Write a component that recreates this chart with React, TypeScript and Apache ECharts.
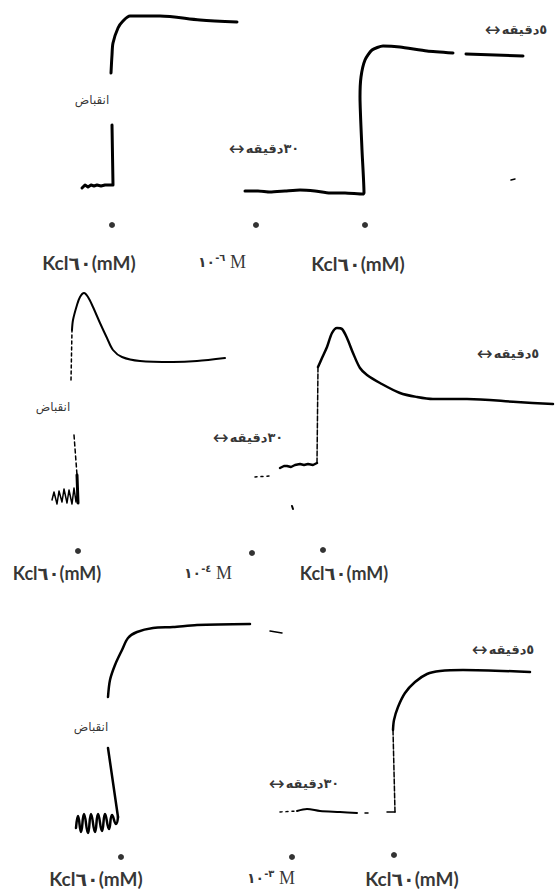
import React, { useEffect, useRef } from "react";
import * as echarts from "echarts";

// ---------- Data (x = time, arbitrary units; y = tension above panel floor, arbitrary units) ----------
const KCL_LABEL = "Kcl٦٠(mM)";
const CONTRACTION_LABEL = "انقباض";
const BAR_5MIN = "٥دقيقه";
const BAR_30MIN = "٣٠دقيقه";
const EXPONENTS = ["-٦", "-٤", "-٣"];

// Panel 1 (10^-6 M)
const P1_T1_BASE = [[82, 92], [85, 95], [88, 93], [91, 95], [94, 94], [97, 95], [101, 94], [105, 95], [109, 95], [113, 95], [112, 155]];
const P1_T1_RISE = [[111, 207], [112, 225], [113, 237], [118, 252], [123, 259], [130, 264], [160, 264], [200, 260], [237, 258]];
const P1_T2_MAIN = [[245, 89], [258, 89], [270, 88], [285, 89], [300, 90], [315, 89], [330, 87], [345, 87], [363, 86], [364, 87], [362, 130], [360, 183], [361, 203], [365, 220], [372, 230], [383, 234], [400, 233], [427, 229], [453, 227]];
const P1_T2_TAIL = [[466, 226], [523, 224]];
const P1_SPECK = [[511, 100], [515, 101]];
const P1_DOTS = [[112, 55], [256, 55], [365, 55]];
const P1_LABEL_POS = [[89, 18], [222, 18], [358, 17]];
const P1_CONTRACTION_POS = [92, 180];
const P1_BAR5_POS = [516, 251];
const P1_BAR30_POS = [264, 132];

// Panel 2 (10^-4 M)
const P2_T1_DASH_UP = [[71, 210], [72, 260]];
const P2_T1_PEAK = [[72, 260], [73, 270], [77, 285], [80, 293], [84, 297], [88, 293], [93, 283], [100, 267], [107, 252], [113, 240], [122, 233], [140, 229], [173, 228], [197, 229], [225, 232]];
const P2_T1_DASH_LOW = [[74, 155], [77, 115]];
const P2_T1_THICK = [[77, 115], [78, 87]];
const P2_T1_SQUIGGLE = [[52, 90], [54, 98], [57, 86], [59, 99], [62, 88], [64, 101], [67, 87], [69, 100], [72, 86], [74, 102], [76, 88], [78, 100]];
const P2_T2_BASE_DOTS = [[255, 113], [270, 114]];
const P2_T2_BASE = [[280, 122], [284, 124], [287, 124], [291, 123], [295, 125], [300, 126], [304, 125], [308, 126], [313, 125], [317, 127]];
const P2_T2_DASH_UP = [[317, 127], [318, 223]];
const P2_T2_PEAK = [[318, 223], [322, 232], [327, 243], [332, 257], [337, 262], [342, 261], [347, 252], [353, 237], [360, 222], [367, 215], [380, 207], [400, 197], [417, 193], [433, 191], [467, 191], [517, 188], [553, 186]];
const P2_SPECK = [[292, 84], [293, 81]];
const P2_DOTS = [[78, 39], [252, 37], [323, 40]];
const P2_LABEL_POS = [[57, 17], [208, 17], [344, 17]];
const P2_CONTRACTION_POS = [53, 183];
const P2_BAR5_POS = [508, 237];
const P2_BAR30_POS = [248, 153];

// Panel 3 (10^-3 M)
const P3_T1_SQUIGGLE = [[76, 62], [78, 74], [81, 58], [84, 76], [88, 57], [91, 76], [95, 58], [98, 76], [102, 59], [105, 76], [109, 61], [112, 75], [116, 66], [118, 73]];
const P3_T1_LOW = [[118, 73], [108, 142]];
const P3_T1_RISE = [[108, 193], [110, 210], [115, 225], [122, 240], [128, 252], [137, 258], [153, 262], [173, 263], [197, 265], [250, 266]];
const P3_SPECK = [[270, 259], [282, 257]];
const P3_T2_BASE_DOTS = [[280, 78], [296, 79]];
const P3_T2_BASE = [[297, 79], [307, 81], [320, 79], [340, 78], [357, 77]];
const P3_T2_DOT = [[365, 77], [368, 77]];
const P3_T2_CORNER = [[387, 78], [395, 78]];
const P3_T2_DASH_UP = [[395, 78], [393, 160]];
const P3_T2_RISE = [[393, 160], [394, 170], [398, 183], [405, 197], [415, 208], [427, 216], [440, 219], [463, 220], [530, 218]];
const P3_DOTS = [[121, 33], [292, 33], [394, 35]];
const P3_LABEL_POS = [[96, 12], [271, 12], [412, 12]];
const P3_CONTRACTION_POS = [91, 163];
const P3_BAR5_POS = [503, 241];
const P3_BAR30_POS = [304, 107];

// ---------- Layout ----------
const PANELS = [
  { top: 0, height: 280 },
  { top: 280, height: 310 },
  { top: 590, height: 300 },
];
const WIDTH = 558;
const HEIGHT = 890;

const ARABIC_FONT = '"DejaVu Sans", sans-serif';
const LATIN_FONT = 'Lato, "DejaVu Sans", sans-serif';

function line(panel: number, data: number[][], width: number, type: any = "solid", smooth: number | boolean = false) {
  return {
    type: "line",
    xAxisIndex: panel,
    yAxisIndex: panel,
    data,
    symbol: "none",
    showSymbol: false,
    smooth,
    silent: true,
    lineStyle: { color: "#000", width, type, cap: "round", join: "round" },
  };
}

function text(panel: number, pos: number[], formatter: string, style: any) {
  return {
    type: "scatter",
    xAxisIndex: panel,
    yAxisIndex: panel,
    symbolSize: 0,
    silent: true,
    z: 5,
    data: [{ value: pos }],
    label: {
      show: true,
      position: "inside",
      formatter,
      color: "#000",
      textBorderWidth: 0,
      ...style,
    },
  };
}

function dots(panel: number, data: number[][]) {
  return {
    type: "scatter",
    xAxisIndex: panel,
    yAxisIndex: panel,
    symbol: "circle",
    symbolSize: 6,
    silent: true,
    data,
    itemStyle: { color: "#000" },
  };
}

const BAR_RICH = {
  a: { fontFamily: ARABIC_FONT, fontSize: 19, color: "#000", lineHeight: 20, padding: [0, 1, 0, 0] },
  t: { fontFamily: ARABIC_FONT, fontSize: 13, fontWeight: "bold", color: "#000", lineHeight: 20 },
};

function panelTexts(panel: number, labelPos: number[][], contraction: number[], bar5: number[], bar30: number[], kclSize: number) {
  const kclStyle = { fontFamily: LATIN_FONT, fontWeight: "bold", fontSize: kclSize };
  return [
    text(panel, labelPos[0], KCL_LABEL, kclStyle),
    text(panel, labelPos[1], `{n|١٠}{s|${EXPONENTS[panel]}}{m| M}`, {
      rich: {
        n: { fontFamily: ARABIC_FONT, fontSize: 14, fontWeight: "bold", color: "#000", lineHeight: 20 },
        s: { fontFamily: ARABIC_FONT, fontSize: 10, fontWeight: "bold", color: "#000", verticalAlign: "top", lineHeight: 20 },
        m: { fontFamily: '"Liberation Serif", serif', fontSize: 18, color: "#000", lineHeight: 20 },
      },
    }),
    text(panel, labelPos[2], KCL_LABEL, kclStyle),
    text(panel, contraction, CONTRACTION_LABEL, { fontFamily: ARABIC_FONT, fontSize: 12 }),
    text(panel, bar5, `{a|↔}{t|${BAR_5MIN}}`, { rich: BAR_RICH }),
    text(panel, bar30, `{a|↔}{t|${BAR_30MIN}}`, { rich: BAR_RICH }),
  ];
}

export default function App() {
  const ref = useRef<HTMLDivElement>(null);

  useEffect(() => {
    if (!ref.current) return;
    const chart = echarts.init(ref.current, undefined, { renderer: "svg" });

    const series: any[] = [
      // Panel 1
      line(0, P1_T1_BASE, 3),
      line(0, P1_T1_RISE, 3, "solid", 0.3),
      line(0, P1_T2_MAIN, 3, "solid", 0.2),
      line(0, P1_T2_TAIL, 3),
      line(0, P1_SPECK, 1.5),
      dots(0, P1_DOTS),
      ...panelTexts(0, P1_LABEL_POS, P1_CONTRACTION_POS, P1_BAR5_POS, P1_BAR30_POS, 19),
      // Panel 2
      line(1, P2_T1_DASH_UP, 1.5, [3, 3]),
      line(1, P2_T1_PEAK, 2, "solid", 0.3),
      line(1, P2_T1_DASH_LOW, 1.5, [4, 3]),
      line(1, P2_T1_THICK, 3),
      line(1, P2_T1_SQUIGGLE, 1.5),
      line(1, P2_T2_BASE_DOTS, 1.5, [2, 4]),
      line(1, P2_T2_BASE, 2.5),
      line(1, P2_T2_DASH_UP, 1.5, [5, 2]),
      line(1, P2_T2_PEAK, 2.5, "solid", 0.3),
      line(1, P2_SPECK, 2),
      dots(1, P2_DOTS),
      ...panelTexts(1, P2_LABEL_POS, P2_CONTRACTION_POS, P2_BAR5_POS, P2_BAR30_POS, 18),
      // Panel 3
      line(2, P3_T1_SQUIGGLE, 2.5, "solid", 0.5),
      line(2, P3_T1_LOW, 2.5),
      line(2, P3_T1_RISE, 2.5, "solid", 0.3),
      line(2, P3_SPECK, 1.5),
      line(2, P3_T2_BASE_DOTS, 1.5, [2, 4]),
      line(2, P3_T2_BASE, 2, "solid", 0.3),
      line(2, P3_T2_DOT, 1.5),
      line(2, P3_T2_CORNER, 1.5),
      line(2, P3_T2_DASH_UP, 1.5, [5, 2]),
      line(2, P3_T2_RISE, 2.5, "solid", 0.3),
      dots(2, P3_DOTS),
      ...panelTexts(2, P3_LABEL_POS, P3_CONTRACTION_POS, P3_BAR5_POS, P3_BAR30_POS, 19),
    ];

    chart.setOption({
      animation: false,
      backgroundColor: "#fff",
      grid: PANELS.map((p) => ({ left: 0, width: WIDTH, top: p.top, height: p.height })),
      xAxis: PANELS.map((_, i) => ({ type: "value", gridIndex: i, min: 0, max: WIDTH, show: false })),
      yAxis: PANELS.map((p, i) => ({ type: "value", gridIndex: i, min: 0, max: p.height, show: false })),
      series,
    });

    return () => chart.dispose();
  }, []);

  return (
    <div
      ref={ref}
      style={{ position: "absolute", left: 0, top: 0, width: WIDTH, height: HEIGHT, background: "#fff" }}
    />
  );
}
